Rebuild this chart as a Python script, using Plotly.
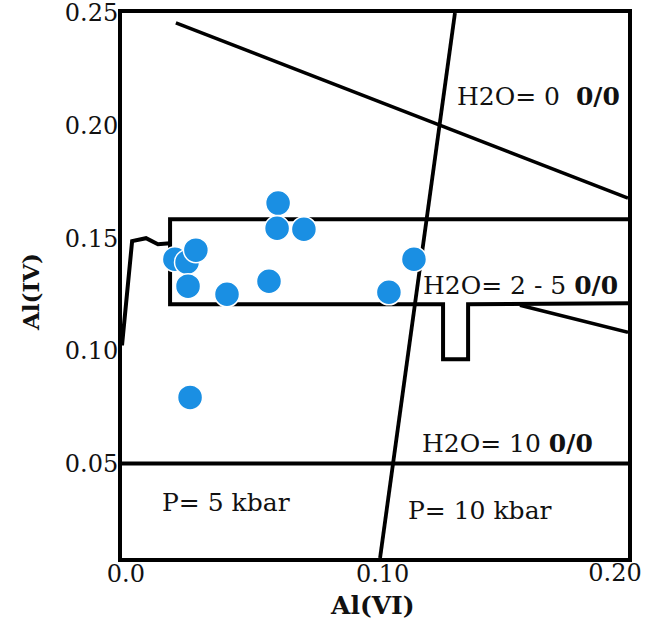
import plotly.graph_objects as go

# ---- data ----
al_vi = [0.0209, 0.0257, 0.0292, 0.0261, 0.0415, 0.0581, 0.0617, 0.0613,
         0.0719, 0.1055, 0.1154, 0.0269]
al_iv = [0.1407, 0.1393, 0.1447, 0.1287, 0.1251, 0.1309, 0.1656, 0.1544,
         0.1540, 0.1260, 0.1407, 0.0793]

# boundary lines of the diagram
upper_line_x = [0.0213, 0.2]
upper_line_y = [0.2456, 0.1678]
pressure_line_x = [0.1316, 0.1020]
pressure_line_y = [0.25, 0.008]
h2o10_line_x = [0.0, 0.2]
h2o10_line_y = [0.05, 0.05]
box_x = [0.2, 0.0190, 0.0190, 0.1269, 0.1269, 0.1368, 0.1368, 0.2]
box_y = [0.1584, 0.1584, 0.1207, 0.1207, 0.0962, 0.0962, 0.1207, 0.1211]
step_x = [0.0, 0.0020, 0.0040, 0.0095, 0.0142, 0.0190]
step_y = [0.1024, 0.1269, 0.1487, 0.1500, 0.1473, 0.1478]
lower_line_x = [0.1573, 0.2]
lower_line_y = [0.1202, 0.1082]

x_ticks = [0.0, 0.10]
x_ticktext = ["\u00a00.0", "\u00a0\u00a00.10"]
x_end_tick = [0.20]
x_end_ticktext = ["0.20"]
y_ticks = [0.05, 0.10, 0.15, 0.20, 0.25]
y_ticktext = ["0.05", "0.10", "0.15", "0.20", "0.25"]

labels = ["H2O=\u00a00\u00a0\u00a0<b>0/0</b>", "H2O=\u00a02\u00a0-\u00a05\u00a0<b>0/0</b>",
          "H2O=\u00a010\u00a0<b>0/0</b>", "P=\u00a05\u00a0kbar", "P=\u00a010\u00a0kbar"]
label_x = [0.1648, 0.1577, 0.1522, 0.0411, 0.1415]
label_y = [0.2131, 0.1291, 0.0589, 0.0327, 0.0291]

SERIF = "DejaVu Serif"

fig = go.Figure()

def add_line(xs, ys, w=3.8):
    fig.add_trace(go.Scatter(x=xs, y=ys, mode="lines",
                             line=dict(color="black", width=w),
                             hoverinfo="skip", showlegend=False))

add_line(upper_line_x, upper_line_y, 3.5)
add_line(pressure_line_x, pressure_line_y, 3.8)
add_line(h2o10_line_x, h2o10_line_y, 4)
add_line(box_x, box_y, 4)
add_line(step_x, step_y, 4)
add_line(lower_line_x, lower_line_y, 3.5)

fig.add_trace(go.Scatter(
    x=al_vi, y=al_iv, mode="markers",
    marker=dict(size=25, color="#1a8fe3", line=dict(color="white", width=1.5)),
    showlegend=False))

# empty trace that only carries the secondary x axis (used for the 0.20 label)
fig.add_trace(go.Scatter(x=[], y=[], xaxis="x2", mode="markers",
                         showlegend=False, hoverinfo="skip"))

for t, x, y in zip(labels, label_x, label_y):
    fig.add_annotation(x=x, y=y, text=t, showarrow=False,
                       font=dict(family=SERIF, size=25, color="#111"),
                       xanchor="center", yanchor="middle")

fig.add_annotation(x=0.5, y=0, xref="paper", yref="paper", text="<b>Al(VI)</b>",
                   showarrow=False, yshift=-47, xshift=-3,
                   font=dict(family=SERIF, size=25, color="#111"),
                   xanchor="center", yanchor="middle")
fig.add_annotation(x=0, y=0.488, xref="paper", yref="paper", text="<b>Al(IV)</b>",
                   showarrow=False, xshift=-92, textangle=-90,
                   font=dict(family=SERIF, size=23, color="#111"),
                   xanchor="center", yanchor="middle")

tick_font = dict(family=SERIF, size=24, color="#111")

fig.update_layout(
    xaxis=dict(range=[0, 0.2], tickvals=x_ticks, ticktext=x_ticktext,
               showgrid=False, zeroline=False, showline=True, mirror=True,
               linecolor="black", linewidth=4, ticks="", automargin=False,
               ticklabeloverflow="allow", tickfont=tick_font,
               ticklabelstandoff=-9),
    xaxis2=dict(range=[0, 0.2], overlaying="x", side="bottom", anchor="y",
                tickvals=x_end_tick, ticktext=x_end_ticktext,
                showgrid=False, zeroline=False, showline=False, ticks="",
                automargin=False, ticklabeloverflow="allow", tickfont=tick_font,
                ticklabelstandoff=-2, ticklabelshift=-13),
    yaxis=dict(range=[0.008, 0.25], tickvals=y_ticks, ticktext=y_ticktext,
               showgrid=False, zeroline=False, showline=True, mirror=True,
               linecolor="black", linewidth=4, ticks="", automargin=False,
               ticklabeloverflow="allow", tickfont=tick_font,
               ticklabelstandoff=-5),
    width=650, height=629,
    margin=dict(l=122, r=22, t=13, b=71),
    plot_bgcolor="white", paper_bgcolor="white",
    showlegend=False)

fig.write_html("out.html",
               config={"displayModeBar": False},
               post_script="document.body.style.margin='0px';")
